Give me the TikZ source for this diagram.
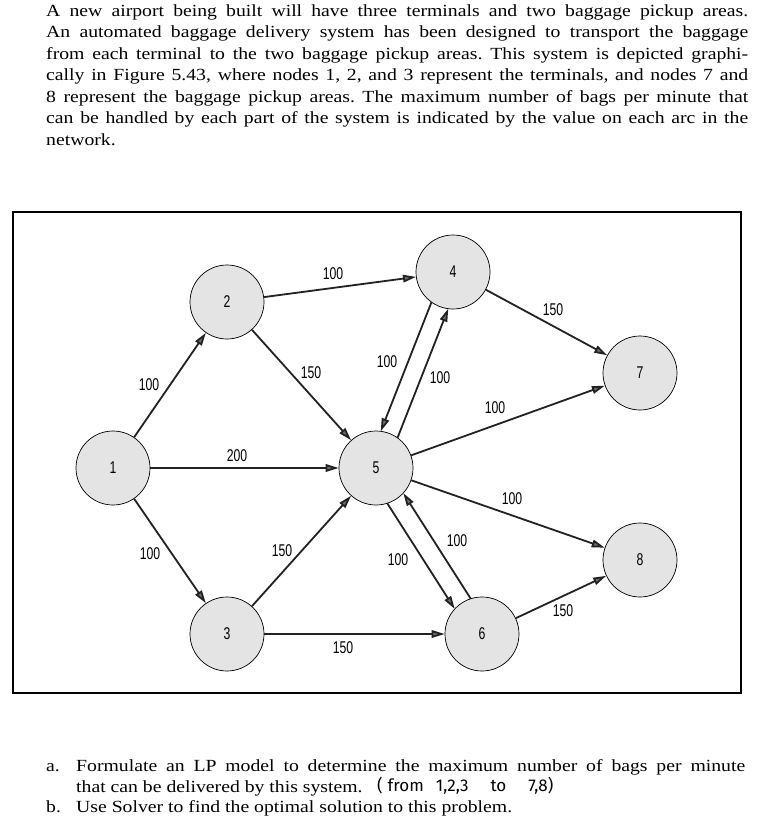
\documentclass[tikz,border=0pt]{standalone}
\usepackage{fontspec}
\setmainfont{Liberation Serif}[FakeStretch=1.16]
\newfontfamily\labfont{Liberation Sans}[FakeStretch=0.72]
\newfontfamily\handfont{Fira Sans}
\usetikzlibrary{arrows.meta,calc}
\definecolor{edgec}{HTML}{222222}
\definecolor{nodefill}{HTML}{E4E4E4}
\definecolor{tipfill}{HTML}{6E6E6E}
\frenchspacing
\tikzset{
  netnode/.style={circle, draw=black, line width=0.7pt, fill=nodefill,
    minimum size=74pt, inner sep=0pt, font=\labfont\fontsize{17}{17}\selectfont},
  edge/.style={draw=edgec, line width=1.8pt,
    -{Triangle[length=13pt,width=7.5pt,fill=tipfill]}},
  capacity/.style={font=\labfont\fontsize{17}{17}\selectfont, inner sep=0pt},
  txt/.style={anchor=base west, inner sep=0pt, font=\fontsize{17}{20}\selectfont},
  hand/.style={anchor=base west, inner sep=0pt, font=\handfont\fontsize{17}{17}\selectfont}
}
\begin{document}
\begin{tikzpicture}[x=1pt,y=-1pt]
\useasboundingbox (0,0) rectangle (765,821);
\fill[white] (0,0) rectangle (765,821);

% problem text
\node[txt] (t1) at (46,16.5) {\makebox[702pt][s]{A new airport being built will have three terminals and two baggage pickup areas.}};
\node[txt] (t2) at (46,38) {\makebox[702pt][s]{An automated baggage delivery system has been designed to transport the baggage}};
\node[txt] (t3) at (46,59.5) {\makebox[702pt][s]{from each terminal to the two baggage pickup areas. This system is depicted graphi-}};
\node[txt] (t4) at (46,81) {\makebox[702pt][s]{cally in Figure 5.43, where nodes 1, 2, and 3 represent the terminals, and nodes 7 and}};
\node[txt] (t5) at (46,102.5) {\makebox[702pt][s]{8 represent the baggage pickup areas. The maximum number of bags per minute that}};
\node[txt] (t6) at (46,124) {\makebox[702pt][s]{can be handled by each part of the system is indicated by the value on each arc in the}};
\node[txt] (t7) at (46,145.5) {network.};

% frame
\draw[line width=1.1pt] (13,212) rectangle (741,693);

% nodes
\node[netnode] (n1) at (113,468) {1};
\node[netnode] (n2) at (227,302) {2};
\node[netnode] (n3) at (227,634) {3};
\node[netnode] (n4) at (453,272) {4};
\node[netnode] (n5) at (376,468) {5};
\node[netnode] (n6) at (482,634) {6};
\node[netnode] (n7) at (640,373) {7};
\node[netnode] (n8) at (640,560) {8};

% edges
\draw[edge] (n1) -- (n2);
\draw[edge] (n1) -- (n5);
\draw[edge] (n1) -- (n3);
\draw[edge] (n2) -- (n4);
\draw[edge] (n2) -- (n5);
\draw[edge] (n3) -- (n5);
\draw[edge] (n3) -- (n6);
\draw[edge] (n4) -- (n7);
\draw[edge] (n5) -- (n7);
\draw[edge] (n5) -- (n8);
\draw[edge] (n6) -- (n8);
\draw[edge, shorten <=35.9pt, shorten >=35.9pt] ($(n4)!9pt!-90:(n5)$) -- ($(n5)!9pt!90:(n4)$);
\draw[edge, shorten <=35.9pt, shorten >=35.9pt] ($(n5)!9pt!-90:(n4)$) -- ($(n4)!9pt!90:(n5)$);
\draw[edge, shorten <=35.8pt, shorten >=35.8pt] ($(n5)!9.5pt!-90:(n6)$) -- ($(n6)!9.5pt!90:(n5)$);
\draw[edge, shorten <=35.8pt, shorten >=35.8pt] ($(n6)!9.5pt!-90:(n5)$) -- ($(n5)!9.5pt!90:(n6)$);

% capacities
\node[capacity] (c24) at (333,274) {100};
\node[capacity] (c12) at (149,385) {100};
\node[capacity] (c25) at (311,373) {150};
\node[capacity] (c45) at (387,362) {100};
\node[capacity] (c54) at (440,378) {100};
\node[capacity] (c47) at (553,310) {150};
\node[capacity] (c57) at (495,408) {100};
\node[capacity] (c15) at (237,456) {200};
\node[capacity] (c58) at (512,499) {100};
\node[capacity] (c13) at (150,554) {100};
\node[capacity] (c35) at (282,551) {150};
\node[capacity] (c56) at (398,560) {100};
\node[capacity] (c65) at (457,541) {100};
\node[capacity] (c36) at (343,648) {150};
\node[capacity] (c68) at (563,611) {150};

% questions
\node[txt] (qa) at (46,771) {a.};
\node[txt] (qa1) at (76,771) {\makebox[669pt][s]{Formulate an LP model to determine the maximum number of bags per minute}};
\node[txt] (qa2) at (76,792) {that can be delivered by this system.};
\node[hand] (note) at (377,791) {(\hspace{5pt}from\hspace{12pt}1,2,3\hspace{22pt}to\hspace{22pt}7,8)};
\node[txt] (qb) at (46,812.5) {b.};
\node[txt] (qb1) at (76,812.5) {Use Solver to find the optimal solution to this problem.};
\end{tikzpicture}
\end{document}
